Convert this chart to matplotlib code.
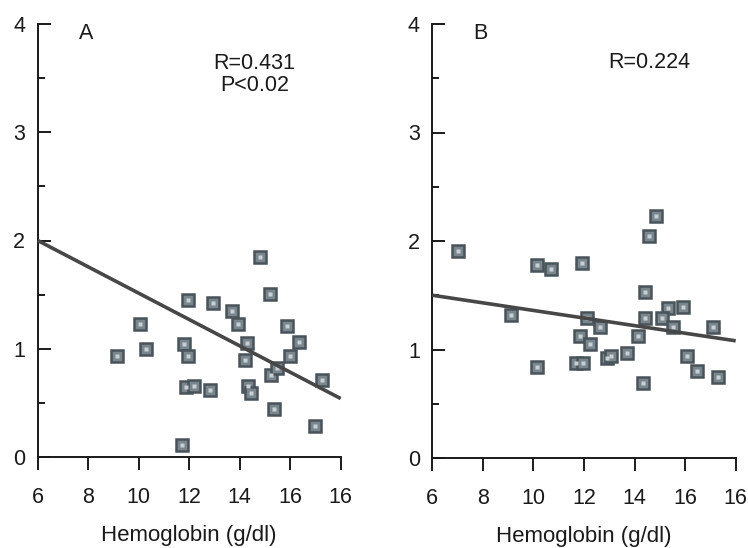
import matplotlib
matplotlib.use("Agg")
import matplotlib.pyplot as plt
import numpy as np

plt.rcParams['font.family'] = ['Liberation Sans', 'DejaVu Sans']

# ---- data ----
hb_A = [9.13, 10.05, 10.28, 11.81, 11.94, 11.94, 11.70, 11.87, 12.20, 12.82,
        12.95, 13.70, 13.94, 14.30, 14.20, 14.34, 14.44, 15.20, 15.23, 15.47,
        15.36, 15.89, 15.99, 16.36, 17.25, 16.98, 14.80]
val_A = [0.93, 1.23, 1.00, 1.04, 0.93, 1.45, 0.11, 0.65, 0.66, 0.62,
         1.42, 1.35, 1.23, 1.05, 0.90, 0.66, 0.59, 1.51, 0.76, 0.82,
         0.44, 1.21, 0.93, 1.06, 0.71, 0.29, 1.85]

hb_B = [7.02, 10.13, 10.68, 11.93, 14.84, 14.57, 14.41, 9.10, 12.10, 12.63,
        14.41, 15.34, 15.93, 15.07, 15.53, 17.12, 14.15, 11.84, 12.24, 11.67,
        11.97, 10.15, 12.92, 13.08, 13.69, 14.35, 16.06, 16.46, 17.31]
val_B = [1.91, 1.78, 1.74, 1.80, 2.23, 2.05, 1.53, 1.32, 1.29, 1.21,
         1.29, 1.38, 1.39, 1.29, 1.21, 1.21, 1.12, 1.12, 1.05, 0.875,
         0.875, 0.84, 0.92, 0.94, 0.97, 0.69, 0.94, 0.80, 0.75]

# regression lines: value at x = 6 and x = 18
fit_x = [6, 18]
fit_A = [2.00, 0.54]
fit_B = [1.50, 1.08]

x_ticks = [6, 8, 10, 12, 14, 16, 18]
x_tick_labels = ['6', '8', '10', '12', '14', '16', '16']
y_ticks = [0, 1, 2, 3, 4]
y_tick_labels = ['0', '1', '2', '3', '4']

panel_labels = ['A', 'B']
stats_text = ['R=0.431\nP<0.02', 'R=0.224']
xlabel = 'Hemoglobin (g/dl)'

# ---- figure ----
fig = plt.figure(figsize=(7.48, 5.48), dpi=100)
W, H = 748, 548
axA = fig.add_axes([37.7 / W, (H - 457) / H, 303 / W, 433 / H])
axB = fig.add_axes([432.3 / W, (H - 458) / H, 303.4 / W, 434 / H])

datasets = [(axA, hb_A, val_A, fit_A), (axB, hb_B, val_B, fit_B)]
for i, (ax, xs, ys, fit) in enumerate(datasets):
    ax.set_xlim(6, 18)
    ax.set_ylim(0, 4)
    for s in ['top', 'right']:
        ax.spines[s].set_visible(False)
    for s in ['left', 'bottom']:
        ax.spines[s].set_linewidth(1.4)
        ax.spines[s].set_color('#1a1a1a')
    ax.set_xticks(x_ticks)
    ax.set_xticklabels(x_tick_labels)
    ax.set_yticks(y_ticks)
    ax.set_yticklabels(y_tick_labels)
    ax.set_yticks([0.5, 1.5, 2.5, 3.5], minor=True)
    ax.tick_params(axis='x', direction='out', length=9.5, width=1.4,
                   pad=12, labelsize=15.5, colors='#1a1a1a')
    ax.tick_params(axis='y', which='major', direction='in', length=9, width=1.4,
                   pad=9, labelsize=15.5, colors='#1a1a1a')
    ax.tick_params(axis='y', which='minor', direction='in', length=5, width=1.4,
                   colors='#1a1a1a')
    ax.set_xlabel(xlabel, fontsize=16, labelpad=12.5, color='#1a1a1a')

    ax.plot(xs, ys, linestyle='none', marker='s', markersize=8.8,
            markerfacecolor='#7a868e', markeredgecolor='#48535a',
            markeredgewidth=1.8, zorder=3, clip_on=False)
    ax.plot(xs, ys, linestyle='none', marker='s', markersize=3.0,
            markerfacecolor='#c9cfd3', markeredgecolor='none', zorder=3.1,
            clip_on=False)
    ax.plot(fit_x, fit, color='#474747', linewidth=2.6, zorder=4,
            solid_capstyle='butt', clip_on=False)

    ax.text(0.159, 0.977, panel_labels[i], transform=ax.transAxes,
            fontsize=15.5, ha='center', va='center', color='#1a1a1a')
    ax.text(0.716, 0.935 if i == 1 else 0.933, stats_text[i],
            transform=ax.transAxes, fontsize=15.5, ha='center', va='top',
            linespacing=1.05, color='#1a1a1a')

fig.savefig('out.png', dpi=100)
